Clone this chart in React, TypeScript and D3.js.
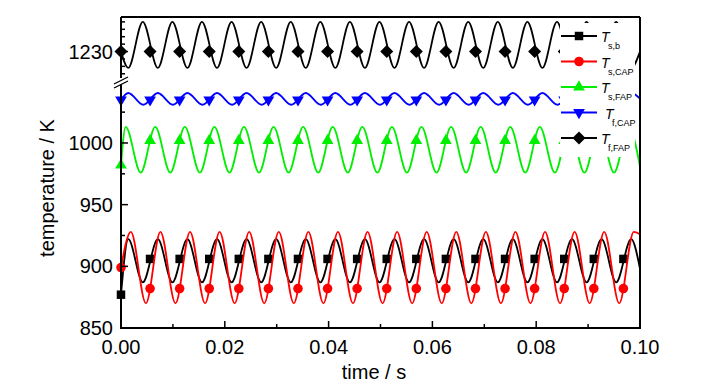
import * as d3 from "d3";

const W = 726;
const H = 390;
const PLOT = { left: 121, right: 640, top: 17, bottom: 328, upperBottom: 76, lowerTop: 85 };

const xTicks = [0, 0.02, 0.04, 0.06, 0.08, 0.1];
const xMinorTicks = [0.01, 0.03, 0.05, 0.07, 0.09];
const yTicks = [850, 900, 950, 1000];
const yMinorTicks = [875, 925, 975, 1025];
const yUpperTicks = [1230];
const yUpperMinorTicks = [1227, 1228, 1229, 1231, 1232, 1233, 1234];

// every 17th-ish sample carries a symbol, same times for all series
const markerTimes = [0, 0.0056, 0.0113, 0.017, 0.0227, 0.0284, 0.0341, 0.0398, 0.0455, 0.0512, 0.0569, 0.0626, 0.0683, 0.074, 0.0797, 0.0854, 0.0911, 0.0968];

// T_s,b
const sbCrests = [0.0014, 0.0071, 0.0128, 0.0185, 0.0242, 0.0299, 0.0356, 0.0413, 0.047, 0.0527, 0.0584, 0.0641, 0.0698, 0.0755, 0.0812, 0.0869, 0.0926, 0.0983];
const sbTroughs = [0.0042, 0.0099, 0.0156, 0.0213, 0.027, 0.0327, 0.0384, 0.0441, 0.0498, 0.0555, 0.0612, 0.0669, 0.0726, 0.0783, 0.084, 0.0897, 0.0954];
const sbLevels = [877, 922, 887, 898]; // start, crest, trough, end
const sbMarks = [877, 906, 906, 906, 906, 906, 906, 906, 906, 906, 906, 906, 906, 906, 906, 906, 906, 906];

// T_s,CAP
const scCrests = [0.0019, 0.0076, 0.0133, 0.019, 0.0247, 0.0304, 0.0361, 0.0418, 0.0475, 0.0532, 0.0589, 0.0646, 0.0703, 0.076, 0.0817, 0.0874, 0.0931, 0.0988];
const scTroughs = [0.0048, 0.0105, 0.0162, 0.0219, 0.0276, 0.0333, 0.039, 0.0447, 0.0504, 0.0561, 0.0618, 0.0675, 0.0732, 0.0789, 0.0846, 0.0903, 0.096];
const scLevels = [899, 928, 870, 926];
const scMarks = [899, 882, 882, 882, 882, 882, 882, 882, 882, 882, 882, 882, 882, 882, 882, 882, 882, 882];

// T_s,FAP
const sfCrests = [0.0009, 0.0066, 0.0123, 0.018, 0.0237, 0.0294, 0.0351, 0.0408, 0.0465, 0.0522, 0.0579, 0.0636, 0.0693, 0.075, 0.0807, 0.0864, 0.0921, 0.0978];
const sfTroughs = [0.0038, 0.0095, 0.0152, 0.0209, 0.0266, 0.0323, 0.038, 0.0437, 0.0494, 0.0551, 0.0608, 0.0665, 0.0722, 0.0779, 0.0836, 0.0893, 0.095];
const sfLevels = [982, 1013, 976, 981];
const sfMarks = [982, 1002, 1002, 1002, 1002, 1002, 1002, 1002, 1002, 1002, 1002, 1002, 1002, 1002, 1002, 1002, 1002, 1002];

// T_f,CAP
const fcCrests = [0.0014, 0.0071, 0.0128, 0.0185, 0.0242, 0.0299, 0.0356, 0.0413, 0.047, 0.0527, 0.0584, 0.0641, 0.0698, 0.0755, 0.0812, 0.0869, 0.0926, 0.0983];
const fcTroughs = [0.0043, 0.01, 0.0157, 0.0214, 0.0271, 0.0328, 0.0385, 0.0442, 0.0499, 0.0556, 0.0613, 0.067, 0.0727, 0.0784, 0.0841, 0.0898, 0.0955];
const fcLevels = [1035, 1040.5, 1031, 1036];
const fcMarks = [1035, 1035, 1035, 1035, 1035, 1035, 1035, 1035, 1035, 1035, 1035, 1035, 1035, 1035, 1035, 1035, 1035, 1035];

// T_f,FAP (upper, broken axis part)
const ffCrests = [0.0042, 0.0099, 0.0156, 0.0213, 0.027, 0.0327, 0.0384, 0.0441, 0.0498, 0.0555, 0.0612, 0.0669, 0.0726, 0.0783, 0.084, 0.0897, 0.0954];
const ffTroughs = [0.0014, 0.0071, 0.0128, 0.0185, 0.0242, 0.0299, 0.0356, 0.0413, 0.047, 0.0527, 0.0584, 0.0641, 0.0698, 0.0755, 0.0812, 0.0869, 0.0926, 0.0983];
const ffLevels = [1230, 1234, 1227.8, 1230];
const ffMarks = [1230, 1230, 1230, 1230, 1230, 1230, 1230, 1230, 1230, 1230, 1230, 1230, 1230, 1230, 1230, 1230, 1230, 1230];

const legendSubs = ["s,b", "s,CAP", "s,FAP", "f,CAP", "f,FAP"];

type Pt = [number, number];

const buildPoints = (crests: number[], troughs: number[], levels: number[]): Pt[] => {
  const [start, hi, lo, end] = levels;
  const pts: Pt[] = [[0, start]];
  crests.forEach((t) => pts.push([t, hi]));
  troughs.forEach((t) => pts.push([t, lo]));
  pts.push([0.1, end]);
  return pts.sort((a, b) => a[0] - b[0]);
};

const x = d3.scaleLinear().domain([0, 0.1]).range([PLOT.left, PLOT.right]);
const yLow = d3.scaleLinear().domain([850, 1047]).range([PLOT.bottom, PLOT.lowerTop]);
const yHigh = d3.scaleLinear().domain([1226.7, 1234.66]).range([PLOT.upperBottom, PLOT.top]);

const square = d3.symbol(d3.symbolSquare, 72)()!;
const circle = d3.symbol(d3.symbolCircle, 72)()!;
const triangle = d3.symbol(d3.symbolTriangle, 60)()!;
const diamond = "M0,-6.5L6.5,0L0,6.5L-6.5,0Z";

const series = [
  { pts: buildPoints(sbCrests, sbTroughs, sbLevels), marks: sbMarks, color: "#000000", sym: square, rot: 0, y: yLow, clip: "lowClip" },
  { pts: buildPoints(scCrests, scTroughs, scLevels), marks: scMarks, color: "#ff0000", sym: circle, rot: 0, y: yLow, clip: "lowClip" },
  { pts: buildPoints(sfCrests, sfTroughs, sfLevels), marks: sfMarks, color: "#00ee00", sym: triangle, rot: 0, y: yLow, clip: "lowClip" },
  { pts: buildPoints(fcCrests, fcTroughs, fcLevels), marks: fcMarks, color: "#0000ff", sym: triangle, rot: 180, y: yLow, clip: "lowClip" },
  { pts: buildPoints(ffCrests, ffTroughs, ffLevels), marks: ffMarks, color: "#000000", sym: diamond, rot: 0, y: yHigh, clip: "highClip" },
];

const FONT = "'Liberation Sans', Arial, sans-serif";

export default function App() {
  const legendX = 560;
  const legendY0 = 36;
  const legendStep = 25.5;

  return (
    <svg width={W} height={H} style={{ position: "absolute", left: 0, top: 0, background: "white" }} fontFamily={FONT}>
      <defs>
        <clipPath id="lowClip">
          <rect x={PLOT.left} y={PLOT.lowerTop - 8} width={PLOT.right - PLOT.left} height={PLOT.bottom - PLOT.lowerTop + 8} />
        </clipPath>
        <clipPath id="highClip">
          <rect x={PLOT.left} y={PLOT.top} width={PLOT.right - PLOT.left} height={PLOT.upperBottom - PLOT.top} />
        </clipPath>
      </defs>

      {series.map((s, i) => {
        const line = d3.line<Pt>().x((d) => x(d[0])).y((d) => s.y(d[1])).curve(d3.curveMonotoneX);
        return (
          <g key={i}>
            <path d={line(s.pts) ?? ""} fill="none" stroke={s.color} strokeWidth={1.8} clipPath={`url(#${s.clip})`} />
            {markerTimes.map((t, j) => (
              <path
                key={j}
                d={s.sym}
                fill={s.color}
                transform={`translate(${x(t)},${s.y(s.marks[j])}) rotate(${s.rot})`}
              />
            ))}
          </g>
        );
      })}

      {/* legend box, covers the curves behind it */}
      <rect x={legendX} y={23} width={75} height={134} fill="white" />
      {series.map((s, i) => {
        const ly = legendY0 + i * legendStep;
        const dx = i === 3 ? 4 : 0;
        return (
          <g key={i}>
            <line x1={legendX + 1} x2={legendX + 37} y1={ly} y2={ly} stroke={s.color} strokeWidth={1.8} />
            <path d={s.sym} fill={s.color} transform={`translate(${legendX + 19},${ly}) rotate(${s.rot})`} />
            <text x={legendX + 41 + dx} y={ly + 6} fontSize={14} fontStyle="italic">T</text>
            <text x={legendX + 48 + dx} y={ly + 13} fontSize={9}>{legendSubs[i]}</text>
          </g>
        );
      })}

      {/* frame */}
      <g stroke="black" strokeWidth={2} fill="none">
        <line x1={PLOT.left} x2={PLOT.right} y1={PLOT.top} y2={PLOT.top} />
        <line x1={PLOT.right} x2={PLOT.right} y1={PLOT.top} y2={PLOT.bottom} />
        <line x1={PLOT.left - 1} x2={PLOT.right + 1} y1={PLOT.bottom} y2={PLOT.bottom} />
        <line x1={PLOT.left} x2={PLOT.left} y1={PLOT.top} y2={78} />
        <line x1={PLOT.left} x2={PLOT.left} y1={84} y2={PLOT.bottom} />
      </g>
      {/* axis break */}
      <polygon points="114,84 128,77 128,81 114,88" fill="white" />
      <line x1={114} y1={84} x2={128} y2={77} stroke="black" strokeWidth={1.3} />
      <line x1={114} y1={88} x2={128} y2={81} stroke="black" strokeWidth={1.3} />

      {/* x ticks */}
      <g stroke="black" strokeWidth={1.5}>
        {xTicks.map((t) => (
          <line key={t} x1={x(t)} x2={x(t)} y1={PLOT.bottom} y2={PLOT.bottom - 7} />
        ))}
        {xMinorTicks.map((t) => (
          <line key={t} x1={x(t)} x2={x(t)} y1={PLOT.bottom} y2={PLOT.bottom - 4} />
        ))}
        {yTicks.map((v) => (
          <line key={v} x1={PLOT.left} x2={PLOT.left + 7} y1={yLow(v)} y2={yLow(v)} />
        ))}
        {yMinorTicks.map((v) => (
          <line key={v} x1={PLOT.left} x2={PLOT.left + 4} y1={yLow(v)} y2={yLow(v)} />
        ))}
        {yUpperTicks.map((v) => (
          <line key={v} x1={PLOT.left} x2={PLOT.left + 7} y1={yHigh(v)} y2={yHigh(v)} />
        ))}
        {yUpperMinorTicks.map((v) => (
          <line key={v} x1={PLOT.left} x2={PLOT.left + 4} y1={yHigh(v)} y2={yHigh(v)} />
        ))}
      </g>

      <g fontSize={20} fill="black">
        {xTicks.map((t) => (
          <text key={t} x={x(t)} y={354} textAnchor="middle">{d3.format(".2f")(t)}</text>
        ))}
        {yTicks.map((v) => (
          <text key={v} x={113} y={yLow(v)} dy="0.35em" textAnchor="end">{v}</text>
        ))}
        {yUpperTicks.map((v) => (
          <text key={v} x={113} y={yHigh(v)} dy="0.35em" textAnchor="end">{v}</text>
        ))}
        <text x={374} y={379} textAnchor="middle">time / s</text>
        <text transform="translate(54,188) rotate(-90)" textAnchor="middle">temperature / K</text>
      </g>
    </svg>
  );
}
